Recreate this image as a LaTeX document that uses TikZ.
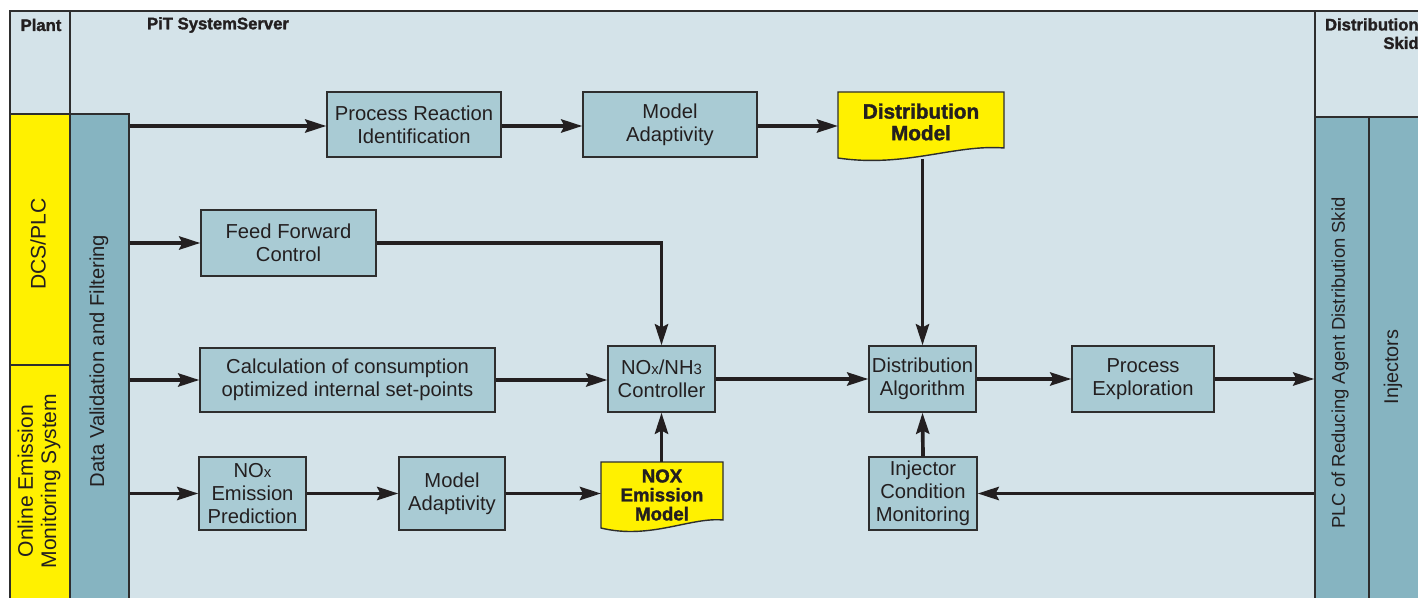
\documentclass[tikz,border=0pt]{standalone}
\usepackage{fontspec}
\setmainfont{Liberation Sans}
\newfontfamily\heavyfont[BoldFeatures={FakeBold=1.6}]{Liberation Sans}
\usetikzlibrary{arrows.meta,positioning}

\definecolor{panel}{HTML}{D4E3E9}
\definecolor{boxfill}{HTML}{A9CBD4}
\definecolor{barfill}{HTML}{86B4C1}
\definecolor{plcyellow}{HTML}{FFF100}
\definecolor{edge}{HTML}{2E2E2E}
\definecolor{arrowc}{HTML}{231F20}

\newcommand{\sm}[1]{{\fontsize{8.5}{8.5}\selectfont #1}}

\tikzset{
  box/.style={draw=edge, fill=boxfill, line width=0.8pt, align=center, inner sep=0pt,
    text=arrowc, font=\fontsize{11.5}{13}\selectfont},
  bar/.style={draw=edge, fill=barfill, line width=0.8pt, inner sep=0pt},
  frame/.style={draw=edge, line width=1.1pt},
  flow/.style={draw=arrowc, line width=2.1pt, -{Stealth[length=12pt,width=7.5pt,inset=1.8pt]}},
  doc/.style={draw=edge, fill=plcyellow, line width=0.8pt},
  doctext/.style={align=center, inner sep=0pt, text=arrowc},
  head/.style={inner sep=0pt, text=arrowc, font=\heavyfont\fontsize{9.5}{10.5}\selectfont\bfseries},
  side/.style={rotate=90, align=center, inner sep=0pt, text=arrowc}
}

\begin{document}
\begin{tikzpicture}[x=0.02cm, y=-0.02cm]
        \clip (0,0) rectangle (1418,598);
        \fill[white] (0,0) rectangle (1418,598);

        % Frame
        \fill[panel] (10,11) rectangle (1440,620);
        \filldraw[frame, fill=plcyellow] (10,114) rectangle (70,365);
        \filldraw[frame, fill=plcyellow] (10,365) rectangle (70,620);
        \draw[frame] (10,620) -- (10,11) -- (1440,11);
        \draw[frame] (70,11) -- (70,620);
        \draw[frame] (1315,11) -- (1315,620);
        \draw[frame] (10,114) -- (70,114);
        \draw[frame] (1315,117) -- (1440,117);

        \node[head] (plant) at (41,25) {Plant};
        \node[head] (pit) at (218,25) {PiT SystemServer};
        \node[head, align=right, anchor=north east] (skid) at (1419,18) {Distribution\\Skid};

        % Side bars
        \node[bar, minimum width=1.18cm, minimum height=9.92cm] (dvf) at (99.5,362) {};
        \node[bar, minimum width=1.08cm, minimum height=9.86cm] (plc) at (1342,363.5) {};
        \node[bar, minimum width=1.42cm, minimum height=9.86cm] (inj) at (1404.5,363.5) {};

        \node[side, font=\fontsize{12}{13}\selectfont] (dcs) at (38,244) {DCS/PLC};
        \node[side, font=\fontsize{12}{13.2}\selectfont] (oems) at (39,481) {Online Emission\\Monitoring System};
        \node[side, font=\fontsize{11.5}{13}\selectfont] (dvft) at (99,361) {Data Validation and Filtering};
        \node[side, font=\fontsize{10.5}{12}\selectfont] (plct) at (1340,363) {PLC of Reducing Agent Distribution Skid};
        \node[side, font=\fontsize{11.3}{12}\selectfont] (injt) at (1393,367) {Injectors};

        % Boxes
        \node[box, minimum width=3.48cm, minimum height=1.30cm] (pri) at (414,124.5) {Process Reaction\\Identification};
        \node[box, minimum width=3.48cm, minimum height=1.30cm] (mat) at (670,124.5) {Model\\Adaptivity};
        \node[box, minimum width=3.50cm, minimum height=1.32cm] (ffc) at (288.5,243) {Feed Forward\\Control};
        \node[box, minimum width=5.90cm, minimum height=1.28cm] (calc) at (347.5,380) {Calculation of consumption\\optimized internal set-points};
        \node[box, minimum width=2.14cm, minimum height=1.32cm] (ctrl) at (661.5,379) {NO\sm{x}/NH\sm{3}\\Controller};
        \node[box, minimum width=2.14cm, minimum height=1.32cm] (dalg) at (922.5,379) {Distribution\\Algorithm};
        \node[box, minimum width=2.84cm, minimum height=1.32cm] (pex) at (1143,379) {Process\\Exploration};
        \node[box, minimum width=2.14cm, minimum height=1.46cm] (pred) at (252.5,493.5) {NO\sm{x}\\Emission\\Prediction};
        \node[box, minimum width=2.12cm, minimum height=1.46cm] (mab) at (452,493.5) {Model\\Adaptivity};
        \node[box, minimum width=2.16cm, minimum height=1.46cm] (icm) at (923,493.5) {Injector\\Condition\\Monitoring};

        % Documents
        \draw[doc] (838,92) -- (1004,92) -- (1004,148) .. controls (955,144) and (905,168) .. (838,158) -- cycle;
        \node[doctext, font=\heavyfont\fontsize{11.8}{12.3}\selectfont\bfseries] (dm) at (921,122) {Distribution\\Model};
        \coordinate (dml) at (838,126);
        \coordinate (dmb) at (922,159);

        \draw[doc] (601,462) -- (723,462) -- (723,520) .. controls (690,517) and (650,540) .. (601,528) -- cycle;
        \node[doctext, font=\heavyfont\fontsize{10.6}{10.8}\selectfont\bfseries] (nox) at (662,495) {NOX\\Emission\\Model};
        \coordinate (noxl) at (601,493.5);
        \coordinate (noxt) at (662,462);

        % Arrows
        \draw[flow] (dvf.east |- dml) -- (pri.west |- dml);
        \draw[flow] (pri.east |- dml) -- (mat.west |- dml);
        \draw[flow] (mat.east |- dml) -- (dml);
        \draw[flow] (dalg.north |- dmb) -- (dalg.north);
        \draw[flow] (dvf.east |- ffc.west) -- (ffc.west);
        \draw[flow] (ffc.east) -| (ctrl.north);
        \draw[flow] (dvf.east |- calc.west) -- (calc.west);
        \draw[flow] (calc.east) -- (ctrl.west |- calc.east);
        \draw[flow] (ctrl.east) -- (dalg.west);
        \draw[flow] (dalg.east) -- (pex.west);
        \draw[flow] (pex.east) -- (plc.west |- pex.east);
        \draw[flow] (dvf.east |- pred.west) -- (pred.west);
        \draw[flow] (pred.east) -- (mab.west);
        \draw[flow] (mab.east) -- (noxl);
        \draw[flow] (ctrl.south |- noxt) -- (ctrl.south);
        \draw[flow] (plc.west |- icm.east) -- (icm.east);
        \draw[flow] (icm.north) -- (dalg.south);
\end{tikzpicture}
\end{document}
